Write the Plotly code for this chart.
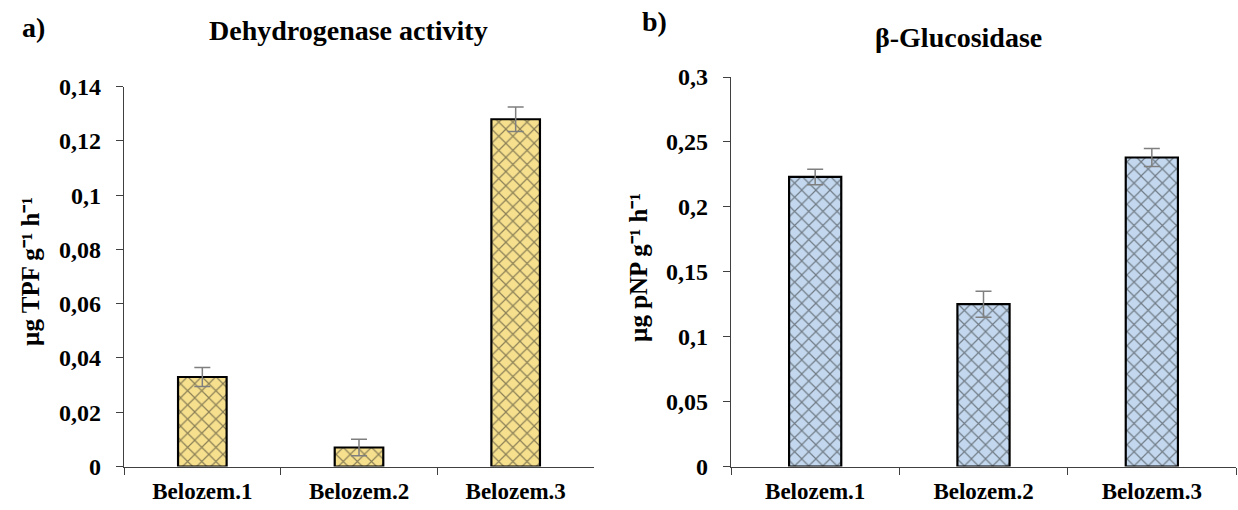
import plotly.graph_objects as go

categories = ["Belozem.1", "Belozem.2", "Belozem.3"]
dehydrogenase = [0.033, 0.007, 0.128]
dehydrogenase_err = [0.0035, 0.003, 0.0045]
glucosidase = [0.223, 0.125, 0.238]
glucosidase_err = [0.006, 0.010, 0.007]

left_ticks = [0, 0.02, 0.04, 0.06, 0.08, 0.10, 0.12, 0.14]
left_ticktext = ["0", "0,02", "0,04", "0,06", "0,08", "0,1", "0,12", "0,14"]
right_ticks = [0, 0.05, 0.10, 0.15, 0.20, 0.25, 0.30]
right_ticktext = ["0", "0,05", "0,1", "0,15", "0,2", "0,25", "0,3"]

SERIF = "Liberation Serif, Times New Roman, serif"

fig = go.Figure()

fig.add_trace(go.Bar(
    x=categories, y=dehydrogenase, xaxis="x", yaxis="y", width=0.31,
    marker=dict(color="#f6e08e", line=dict(color="black", width=2.2),
                pattern=dict(shape="x", fgcolor="#1e1e1e", bgcolor="#f6e08e",
                             size=10, solidity=0.22)),
    error_y=dict(type="data", array=dehydrogenase_err, visible=True,
                 color="#7f7f7f", thickness=1.5, width=8),
    showlegend=False,
))

fig.add_trace(go.Bar(
    x=categories, y=glucosidase, xaxis="x2", yaxis="y2", width=0.31,
    marker=dict(color="#c3d8ee", line=dict(color="black", width=2.2),
                pattern=dict(shape="x", fgcolor="#1e1e1e", bgcolor="#c3d8ee",
                             size=10, solidity=0.22)),
    error_y=dict(type="data", array=glucosidase_err, visible=True,
                 color="#7f7f7f", thickness=1.5, width=8),
    showlegend=False,
))

H = 510
W = 1238

def py(pix):
    return (H - pix) / H

axis_common = dict(showline=True, linecolor="#404040", linewidth=1.3,
                   ticks="outside", ticklen=7, tickcolor="#404040",
                   showgrid=False, zeroline=False, automargin=False)

xfont = dict(family=SERIF, size=23, weight="bold")
yfont = dict(family=SERIF, size=24, weight="bold")

fig.update_layout(
    width=W, height=H,
    margin=dict(l=0, r=0, t=0, b=0, autoexpand=False),
    paper_bgcolor="white", plot_bgcolor="white",
    font=dict(family=SERIF, color="black"),
    xaxis=dict(domain=[124 / W, 594 / W], anchor="y", type="category",
               tickson="boundaries", tickfont=xfont, ticklabelstandoff=4,
               **axis_common),
    yaxis=dict(domain=[py(466.5), py(86.7)], anchor="x", range=[0, 0.14],
               tickvals=left_ticks, ticktext=left_ticktext,
               tickfont=yfont, ticklabelstandoff=10,
               **axis_common),
    xaxis2=dict(domain=[731 / W, 1236 / W], anchor="y2", type="category",
                tickson="boundaries", tickfont=xfont, ticklabelstandoff=4,
                **axis_common),
    yaxis2=dict(domain=[py(466.5), py(77)], anchor="x2", range=[0, 0.3],
                tickvals=right_ticks, ticktext=right_ticktext,
                tickfont=yfont, ticklabelstandoff=10,
                **axis_common),
)

annotations = [
    dict(text="<b>a)</b>", x=20 / W, y=py(27), xanchor="left", yanchor="middle", font_size=28),
    dict(text="<b>Dehydrogenase activity</b>", x=348 / W, y=py(30), xanchor="center", yanchor="middle", font_size=28),
    dict(text="<b>b)</b>", x=640 / W, y=py(22), xanchor="left", yanchor="middle", font_size=28),
    dict(text="<b>β-Glucosidase</b>", x=958 / W, y=py(38), xanchor="center", yanchor="middle", font_size=28),
    dict(text="<b>µg TPF g⁻¹ h⁻¹</b>", x=30 / W, y=py(272), xanchor="center", yanchor="middle", textangle=-90, font_size=25),
    dict(text="<b>µg pNP g⁻¹ h⁻¹</b>", x=638 / W, y=py(268), xanchor="center", yanchor="middle", textangle=-90, font_size=25),
]
for a in annotations:
    a.update(xref="paper", yref="paper", showarrow=False,
             font=dict(family=SERIF, size=a.pop("font_size"), color="black"))
fig.update_layout(annotations=annotations)

fig.write_html("out.html")
